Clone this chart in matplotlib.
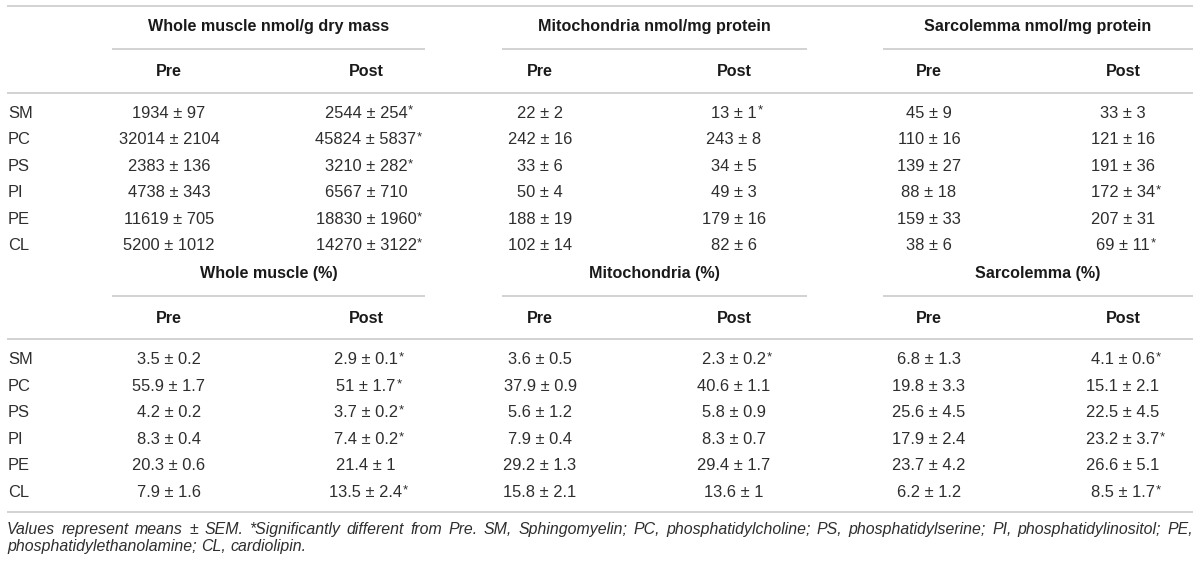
import matplotlib
matplotlib.use("Agg")
import matplotlib.pyplot as plt

# ---------------- data ----------------
lipids = ["SM", "PC", "PS", "PI", "PE", "CL"]
abs_groups = ["Whole muscle nmol/g dry mass", "Mitochondria nmol/mg protein", "Sarcolemma nmol/mg protein"]
pct_groups = ["Whole muscle (%)", "Mitochondria (%)", "Sarcolemma (%)"]
time_labels = ["Pre", "Post"]

wm_abs_pre_mean = [1934, 32014, 2383, 4738, 11619, 5200]
wm_abs_pre_sem = [97, 2104, 136, 343, 705, 1012]
wm_abs_post_mean = [2544, 45824, 3210, 6567, 18830, 14270]
wm_abs_post_sem = [254, 5837, 282, 710, 1960, 3122]
wm_abs_post_sig = [1, 1, 1, 0, 1, 1]

mi_abs_pre_mean = [22, 242, 33, 50, 188, 102]
mi_abs_pre_sem = [2, 16, 6, 4, 19, 14]
mi_abs_post_mean = [13, 243, 34, 49, 179, 82]
mi_abs_post_sem = [1, 8, 5, 3, 16, 6]
mi_abs_post_sig = [1, 0, 0, 0, 0, 0]

sa_abs_pre_mean = [45, 110, 139, 88, 159, 38]
sa_abs_pre_sem = [9, 16, 27, 18, 33, 6]
sa_abs_post_mean = [33, 121, 191, 172, 207, 69]
sa_abs_post_sem = [3, 16, 36, 34, 31, 11]
sa_abs_post_sig = [0, 0, 0, 1, 0, 1]

wm_pct_pre_mean = [3.5, 55.9, 4.2, 8.3, 20.3, 7.9]
wm_pct_pre_sem = [0.2, 1.7, 0.2, 0.4, 0.6, 1.6]
wm_pct_post_mean = [2.9, 51, 3.7, 7.4, 21.4, 13.5]
wm_pct_post_sem = [0.1, 1.7, 0.2, 0.2, 1, 2.4]
wm_pct_post_sig = [1, 1, 1, 1, 0, 1]

mi_pct_pre_mean = [3.6, 37.9, 5.6, 7.9, 29.2, 15.8]
mi_pct_pre_sem = [0.5, 0.9, 1.2, 0.4, 1.3, 2.1]
mi_pct_post_mean = [2.3, 40.6, 5.8, 8.3, 29.4, 13.6]
mi_pct_post_sem = [0.2, 1.1, 0.9, 0.7, 1.7, 1]
mi_pct_post_sig = [1, 0, 0, 0, 0, 0]

sa_pct_pre_mean = [6.8, 19.8, 25.6, 17.9, 23.7, 6.2]
sa_pct_pre_sem = [1.3, 3.3, 4.5, 2.4, 4.2, 1.2]
sa_pct_post_mean = [4.1, 15.1, 22.5, 23.2, 26.6, 8.5]
sa_pct_post_sem = [0.6, 2.1, 4.5, 3.7, 5.1, 1.7]
sa_pct_post_sig = [1, 0, 0, 1, 0, 1]

footnote_line1 = ("Values represent means \u00b1 SEM. *Significantly different from Pre. SM, Sphingomyelin; "
                  "PC, phosphatidylcholine; PS, phosphatidylserine; PI, phosphatidylinositol; PE,")
footnote_line2 = "phosphatidylethanolamine; CL, cardiolipin."

no_sig = [0, 0, 0, 0, 0, 0]
abs_cols = [
    [(wm_abs_pre_mean, wm_abs_pre_sem, no_sig), (wm_abs_post_mean, wm_abs_post_sem, wm_abs_post_sig)],
    [(mi_abs_pre_mean, mi_abs_pre_sem, no_sig), (mi_abs_post_mean, mi_abs_post_sem, mi_abs_post_sig)],
    [(sa_abs_pre_mean, sa_abs_pre_sem, no_sig), (sa_abs_post_mean, sa_abs_post_sem, sa_abs_post_sig)],
]
pct_cols = [
    [(wm_pct_pre_mean, wm_pct_pre_sem, no_sig), (wm_pct_post_mean, wm_pct_post_sem, wm_pct_post_sig)],
    [(mi_pct_pre_mean, mi_pct_pre_sem, no_sig), (mi_pct_post_mean, mi_pct_post_sem, mi_pct_post_sig)],
    [(sa_pct_pre_mean, sa_pct_pre_sem, no_sig), (sa_pct_post_mean, sa_pct_post_sem, sa_pct_post_sig)],
]

# ---------------- layout ----------------
W, H = 1200, 564
fig = plt.figure(figsize=(W / 100, H / 100), dpi=100)
ax = fig.add_axes([0, 0, 1, 1])
ax.set_xlim(0, W)
ax.set_ylim(H, 0)
ax.axis("off")

FONT = "Liberation Sans"
FS = 11.9
FS_H = 11.6
FS_F = 11.4
TXT = "#2e2e2e"
HDR = "#1a1a1a"
LINE = "#cfcfcf"
LW = 1.3

x_left, x_right = 7, 1193
label_x = 8
group_spans = [(112, 425), (502, 807), (883, 1193)]
col_x = [(169, 366), (540, 734), (929, 1123)]
row_h = 26.6


def hline(y, x0=x_left, x1=x_right):
    ax.plot([x0, x1], [y, y], color=LINE, lw=LW, solid_capstyle="butt")


def fmt(v):
    return f"{v:g}"


def block(y0, groups, cols):
    for g, (a, b) in zip(groups, group_spans):
        ax.text((a + b) / 2, y0, g, ha="center", va="center", fontsize=FS_H,
                fontweight="bold", color=HDR, family=FONT)
        hline(y0 + 22, a, b)
    for (xp, xq) in col_x:
        for x, lab in zip((xp, xq), time_labels):
            ax.text(x, y0 + 45, lab, ha="center", va="center", fontsize=FS_H,
                    fontweight="bold", color=HDR, family=FONT)
    hline(y0 + 65.5)
    ry = y0 + 86
    for i, lip in enumerate(lipids):
        y = ry + i * row_h
        ax.text(label_x, y, lip, ha="left", va="center", fontsize=FS, color=TXT, family=FONT)
        for gi, pair in enumerate(cols):
            for ci, (means, sems, sig) in enumerate(pair):
                x = col_x[gi][ci]
                t = ax.text(x, y, f"{fmt(means[i])} \u00b1 {fmt(sems[i])}", ha="center",
                            va="center", fontsize=FS, color=TXT, family=FONT)
                if sig[i]:
                    ax.annotate("*", xy=(1, 0.5), xycoords=t, xytext=(0.4, 1.5),
                                textcoords="offset points", ha="left", va="center",
                                fontsize=FS * 0.8, color=TXT, family=FONT)


hline(6)
block(27, abs_groups, abs_cols)
block(273.5, pct_groups, pct_cols)
hline(512)

# ---------------- justified footnote ----------------
fig.canvas.draw()
renderer = fig.canvas.get_renderer()


def words_line(text, y, justify):
    words = text.split(" ")
    arts = [ax.text(0, y, w, ha="left", va="baseline", fontsize=FS_F, style="italic",
                    color=TXT, family=FONT) for w in words]
    widths = [a.get_window_extent(renderer).width for a in arts]
    sp = ax.text(0, y, "a a", fontsize=FS_F, style="italic", family=FONT)
    sa = ax.text(0, y, "aa", fontsize=FS_F, style="italic", family=FONT)
    space_w = sp.get_window_extent(renderer).width - sa.get_window_extent(renderer).width
    sp.remove()
    sa.remove()
    if justify and len(words) > 1:
        gap = (x_right - x_left - sum(widths)) / (len(words) - 1)
    else:
        gap = space_w
    x = x_left
    for a, w in zip(arts, widths):
        a.set_x(x)
        x += w + gap


words_line(footnote_line1, 534, True)
words_line(footnote_line2, 551, False)

fig.savefig("out.png", dpi=100, facecolor="white")
